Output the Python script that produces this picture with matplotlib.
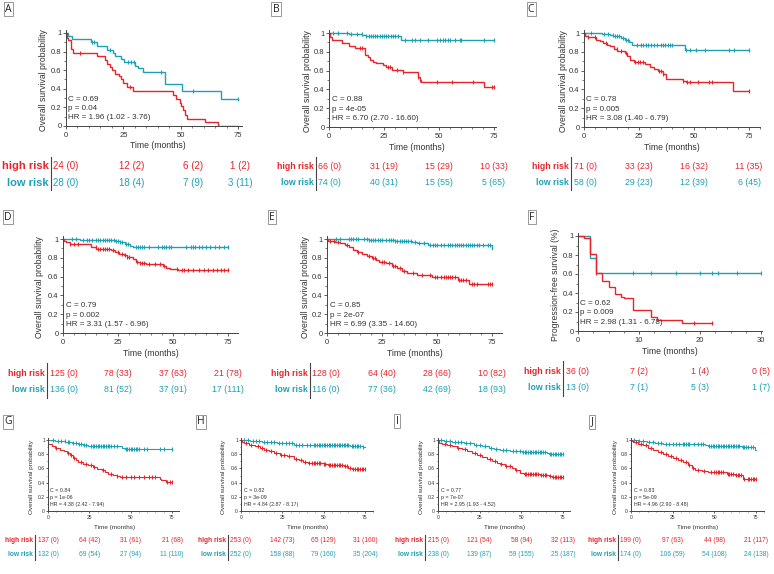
import numpy as np
import matplotlib
matplotlib.use("Agg")
import matplotlib.pyplot as plt
from matplotlib.lines import Line2D
from matplotlib.ticker import MultipleLocator

W, H = 774, 574
RED = "#e8242b"
BLUE = "#1da1b5"
TXT = "#333333"

plt.rcParams.update({
    "font.family": ["Liberation Sans", "DejaVu Sans"],
})

# ── Data: step curves (drop times, survival after drop), end time, censor times ──
A_high_t = [0, 0.5, 1, 2, 3, 13.4, 17, 18, 19, 20, 21.3, 23, 24, 25, 26.7, 29, 46.7, 48, 49.6, 50.3, 51, 51.8, 52.8, 60.5, 66.3]
A_high_s = [1, 0.95, 0.93, 0.83, 0.79, 0.75, 0.71, 0.67, 0.63, 0.60, 0.56, 0.54, 0.50, 0.46, 0.42, 0.375, 0.33, 0.29, 0.25, 0.21, 0.17, 0.12, 0.08, 0.04, 0.0]
A_high_end = 75
A_high_cens = [6, 28]
A_low_t = [0, 1, 2.5, 11, 13.5, 18, 20.5, 21.5, 24, 25.5, 30, 31.5, 33.5, 43, 50.5, 67.5]
A_low_s = [1, 0.965, 0.935, 0.905, 0.86, 0.82, 0.78, 0.75, 0.72, 0.69, 0.65, 0.62, 0.58, 0.45, 0.38, 0.29]
A_low_end = 75
A_low_cens = [11.5, 12.3, 19, 27, 28.5, 29.5, 41.5, 55.5, 75]

B_high_t = [0, 0.5, 1.5, 6, 9, 11.7, 16.3, 17.5, 18.6, 20, 21.5, 24.7, 26, 28.7, 33.7, 40.5, 41.3, 42, 70.5]
B_high_s = [1, 0.96, 0.93, 0.89, 0.865, 0.845, 0.77, 0.74, 0.71, 0.69, 0.68, 0.66, 0.64, 0.61, 0.58, 0.53, 0.50, 0.48, 0.43]
B_high_end = 75
B_high_cens = [14, 15, 26.6, 27.7, 30.7, 33.7, 40.5, 41.5, 49, 55.7, 65.5, 74, 75]
B_low_t = [0, 9, 15, 17, 32.5]
B_low_s = [1, 0.99, 0.98, 0.97, 0.93]
B_low_end = 75
B_low_cens = [2, 4, 8, 10, 12.6, 14.8, 17, 18, 19, 20, 21, 22, 23, 24, 25, 26, 27, 28, 29, 30, 31.4,
              34.5, 37.5, 39.3, 41.3, 45, 48.9, 50.4, 51.9, 52.7, 53.9, 55, 57.2, 59.5, 60.2, 70.5, 75]

C_high_t = [0, 0.5, 2, 5.5, 7.3, 8.8, 10.4, 11.9, 13.5, 15.2, 18.7, 19.7, 20.9, 22.7, 27.7, 30, 32, 33.7, 36, 37.2, 45, 46.5, 67.5]
C_high_s = [1, 0.97, 0.957, 0.93, 0.91, 0.89, 0.875, 0.857, 0.83, 0.81, 0.786, 0.75, 0.714, 0.696, 0.67, 0.64, 0.614, 0.596, 0.564, 0.507, 0.49, 0.475, 0.382]
C_high_end = 75
C_high_cens = [2, 5, 10, 15, 17, 19, 23, 24.5, 25.5, 27, 34, 35, 36, 45, 47, 48, 52, 57, 58, 75]
C_low_t = [0, 8, 11.8, 13.3, 17, 18.6, 20.5, 21.6, 45.8]
C_low_s = [1, 0.99, 0.98, 0.965, 0.946, 0.93, 0.90, 0.875, 0.814]
C_low_end = 75
C_low_cens = [3, 9, 11, 13, 14, 15, 16, 17.5, 19, 20, 24, 26, 27, 28, 29, 30.5, 32, 33, 35, 36, 37, 38,
              39, 40, 46.5, 48, 51, 55, 66, 68, 75]

D_high_t = [0, 0.5, 1.5, 3, 12.9, 15.2, 22, 23.5, 25.5, 27.5, 29, 31.8, 33.3, 34.8, 37.9, 45.5, 47, 48.5, 52.3]
D_high_s = [1, 0.98, 0.964, 0.95, 0.91, 0.893, 0.88, 0.857, 0.843, 0.825, 0.807, 0.786, 0.76, 0.75, 0.736, 0.714, 0.696, 0.682, 0.671]
D_high_end = 75
D_high_cens = [3, 5, 7, 15, 16, 17, 18, 19, 20, 21, 22.5, 25, 27, 28, 29, 30, 33.5, 35, 36, 37, 39, 42,
               44, 46, 52, 54, 55, 57, 59, 62, 64, 66, 68, 70, 72, 73, 75]
D_low_t = [0, 7.5, 21, 23.5, 25.8, 28, 30.3, 32]
D_low_s = [1, 0.993, 0.986, 0.975, 0.964, 0.95, 0.93, 0.91]
D_low_end = 75
D_low_cens = [4, 6, 9, 11, 12, 13, 15, 16, 17, 18, 19, 20, 21, 22, 23, 24, 25, 26, 27, 28.5, 29.5, 33,
              34, 35, 36, 37, 39, 43, 45, 46, 47, 48, 49, 56, 58, 59, 60, 62, 63, 65, 67, 69, 71, 73, 75]

E_high_t = [0, 0.5, 3.8, 6.1, 8, 9.8, 11.7, 13.6, 15.9, 18.2, 20.5, 22.3, 23.8, 26.8, 29.5, 31.8, 34.1, 36.4, 40.9, 47.7, 59.5, 64.4]
E_high_s = [1, 0.982, 0.968, 0.954, 0.936, 0.911, 0.883, 0.858, 0.836, 0.819, 0.80, 0.776, 0.758, 0.74, 0.712, 0.687, 0.662, 0.633, 0.616, 0.598, 0.562, 0.52]
E_high_end = 75
E_high_cens = [1.5, 3, 5, 9, 14, 19, 21, 22, 25, 26, 28, 30, 31, 33, 35, 39, 43, 47, 49, 50, 52, 53,
               54, 55, 56, 57, 58, 60, 61, 62, 63, 66, 67, 68, 73, 74, 75]
E_low_t = [0, 8.3, 19, 31, 38.6, 41, 46, 74.8]
E_low_s = [1, 0.996, 0.99, 0.982, 0.97, 0.954, 0.936, 0.89]
E_low_end = 75
E_low_cens = [4, 6, 10, 11, 12, 13, 14, 17, 18, 19, 20, 21, 22, 23, 24, 25, 27, 28, 29, 30, 31, 32, 33,
              34, 35, 36, 37, 38, 40, 42, 44, 47, 48, 49, 50, 52, 53, 55, 56, 57, 58, 59, 60, 61, 62,
              63, 64, 65, 66, 67, 68, 69, 71, 73, 74]

F_high_t = [0, 1, 2, 3, 4, 5, 6, 7, 7.5, 9, 12, 13, 17]
F_high_s = [1, 0.975, 0.806, 0.61, 0.53, 0.46, 0.385, 0.36, 0.35, 0.22, 0.15, 0.12, 0.085]
F_high_end = 22
F_high_cens = [3, 19, 22]
F_low_t = [0, 2, 3]
F_low_s = [1, 0.77, 0.613]
F_low_end = 30
F_low_cens = [9, 12, 16, 20, 22, 23, 26, 30]

G_high_t = [0, 0.3, 2.4, 4.4, 7, 9.4, 11.4, 13.4, 15.4, 17, 18.4, 21.4, 24.4, 27.5, 29.9, 32.5, 34.5, 36.5, 39.5, 41.5, 43.5, 67.5, 68.5, 71.5]
G_high_s = [1, 0.94, 0.915, 0.89, 0.864, 0.84, 0.817, 0.784, 0.746, 0.714, 0.69, 0.667, 0.643, 0.62, 0.596, 0.573, 0.55, 0.526, 0.512, 0.498, 0.479, 0.455, 0.432, 0.41]
G_high_end = 75
G_high_cens = [5, 12, 14, 16, 20, 23, 26, 28, 33, 38, 42, 45, 47, 50, 52, 55, 58, 61, 63, 65, 72, 74, 75]
G_low_t = [0, 4.4, 10.4, 14.4, 18.4, 21.4, 24.4, 44.5, 46.5]
G_low_s = [1, 0.98, 0.967, 0.953, 0.94, 0.925, 0.915, 0.89, 0.878]
G_low_end = 75
G_low_cens = [3, 6, 8, 10, 12, 13, 15, 17, 19, 20, 22, 23, 26, 27, 28, 29, 30, 31, 32, 33, 34, 35, 36,
              37, 38, 40, 42, 47, 48, 49, 50, 51, 52, 53, 54, 55, 58, 60, 68, 70, 75]

H_high_t = [0, 0.5, 1.6, 4.6, 8.7, 11.7, 13.7, 16.7, 19.7, 23.7, 27.8, 31.8, 34.8, 37.8, 40.8, 49.9, 52.9, 62, 65, 67]
H_high_s = [1, 0.977, 0.958, 0.934, 0.91, 0.887, 0.864, 0.84, 0.817, 0.793, 0.77, 0.737, 0.714, 0.69, 0.676, 0.657, 0.643, 0.63, 0.606, 0.596]
H_high_end = 75
H_high_cens = [3, 6, 10, 13, 15, 18, 21, 24, 26, 29, 33, 36, 39, 41, 43, 44, 45, 46, 47, 48, 50, 51, 53,
               54, 55, 56, 57, 58, 59, 60, 61, 63, 64, 66, 68, 69, 70, 71, 72, 73, 74, 75]
H_low_t = [0, 5.6, 12.7, 21.7, 31.8, 38.8, 66, 73.9]
H_low_s = [1, 0.986, 0.97, 0.953, 0.934, 0.925, 0.915, 0.90]
H_low_end = 75
H_low_cens = [2, 4, 7, 9, 11, 14, 16, 18, 20, 23, 25, 27, 29, 31, 33, 35, 37, 40, 42, 44, 45, 46, 47,
              48, 49, 50, 51, 52, 53, 54, 55, 56, 57, 58, 59, 60, 61, 62, 63, 64, 65, 67, 68, 69, 70, 71, 72, 74]

I_high_t = [0, 0.4, 2.4, 5.4, 8.4, 11.4, 14.4, 17.4, 20.4, 23.4, 26.4, 29.4, 32.4, 35.4, 37.4, 40.4, 44.4, 46.4, 49.4, 51.4, 61.4, 66.4, 68.4]
I_high_s = [1, 0.958, 0.94, 0.925, 0.91, 0.892, 0.873, 0.845, 0.817, 0.793, 0.76, 0.737, 0.704, 0.676, 0.657, 0.638, 0.61, 0.573, 0.54, 0.526, 0.512, 0.488, 0.479]
I_high_end = 75
I_high_cens = [4, 7, 12, 16, 22, 25, 31, 34, 38, 41, 43, 47, 52, 53, 54, 55, 56, 57, 58, 59, 60, 62, 63,
               64, 65, 67, 69, 70, 71, 72, 73, 74, 75]
I_low_t = [0, 3.4, 8.4, 15.4, 21.4, 26.4, 30.4, 33.4, 37.4, 43.4, 50.4, 65.4, 66.4]
I_low_s = [1, 0.986, 0.967, 0.953, 0.934, 0.915, 0.892, 0.873, 0.854, 0.84, 0.83, 0.817, 0.808]
I_low_end = 75
I_low_cens = [2, 5, 7, 10, 12, 14, 17, 19, 23, 25, 28, 32, 35, 39, 41, 45, 47, 49, 51, 52, 53, 54, 55,
              56, 57, 58, 59, 60, 61, 62, 63, 64, 67, 68, 69, 70, 71, 72, 73, 74, 75]

J_high_t = [0, 0.4, 1.4, 4.4, 7.4, 10.4, 13.4, 16.4, 19.4, 22.4, 25.4, 28.4, 31.4, 34.4, 36.4, 38.4, 42.4, 46.4, 57.4, 62.4, 67.4]
J_high_s = [1, 0.986, 0.967, 0.948, 0.925, 0.892, 0.864, 0.83, 0.80, 0.77, 0.75, 0.723, 0.69, 0.643, 0.61, 0.582, 0.563, 0.545, 0.526, 0.502, 0.455]
J_high_end = 75
J_high_cens = [3, 6, 9, 12, 18, 21, 24, 27, 30, 33, 35, 37, 40, 44, 48, 50, 51, 52, 53, 54, 55, 58, 59,
               60, 61, 63, 64, 65, 66, 68, 70, 71, 72, 73, 74, 75]
J_low_t = [0, 4.4, 9.4, 14.4, 19.4, 36.4, 44.4, 46.4, 66.4, 74.6]
J_low_s = [1, 0.986, 0.967, 0.953, 0.948, 0.94, 0.925, 0.91, 0.90, 0.864]
J_low_end = 75
J_low_cens = [2, 5, 7, 11, 13, 16, 18, 21, 23, 25, 27, 29, 31, 32, 33, 34, 35, 38, 40, 42, 43, 47, 48,
              49, 50, 51, 52, 53, 54, 55, 56, 57, 58, 59, 60, 61, 62, 63, 64, 65, 67, 68, 69, 70, 72, 73]

# ── Stats text ──
STATS = {
    "A": ["C = 0.69", "p = 0.04", "HR = 1.96 (1.02 - 3.76)"],
    "B": ["C = 0.88", "p = 4e-05", "HR = 6.70 (2.70 - 16.60)"],
    "C": ["C = 0.78", "p = 0.005", "HR = 3.08 (1.40 - 6.79)"],
    "D": ["C = 0.79", "p = 0.002", "HR = 3.31 (1.57 - 6.96)"],
    "E": ["C = 0.85", "p = 2e-07", "HR = 6.99 (3.35 - 14.60)"],
    "F": ["C = 0.62", "p = 0.009", "HR = 2.98 (1.31 - 6.78)"],
    "G": ["C = 0.84", "p = 1e-06", "HR = 4.38 (2.42 - 7.94)"],
    "H": ["C = 0.82", "p = 3e-09", "HR = 4.84 (2.87 - 8.17)"],
    "I": ["C = 0.77", "p = 7e-07", "HR = 2.95 (1.93 - 4.52)"],
    "J": ["C = 0.83", "p = 5e-09", "HR = 4.96 (2.90 - 8.48)"],
}

# ── Numbers at risk (censored) ──
A_high_risk = ["24 (0)", "12 (2)", "6 (2)", "1 (2)"]
A_low_risk = ["28 (0)", "18 (4)", "7 (9)", "3 (11)"]
B_high_risk = ["66 (0)", "31 (19)", "15 (29)", "10 (33)"]
B_low_risk = ["74 (0)", "40 (31)", "15 (55)", "5 (65)"]
C_high_risk = ["71 (0)", "33 (23)", "16 (32)", "11 (35)"]
C_low_risk = ["58 (0)", "29 (23)", "12 (39)", "6 (45)"]
D_high_risk = ["125 (0)", "78 (33)", "37 (63)", "21 (78)"]
D_low_risk = ["136 (0)", "81 (52)", "37 (91)", "17 (111)"]
E_high_risk = ["128 (0)", "64 (40)", "28 (66)", "10 (82)"]
E_low_risk = ["116 (0)", "77 (36)", "42 (69)", "18 (93)"]
F_high_risk = ["36 (0)", "7 (2)", "1 (4)", "0 (5)"]
F_low_risk = ["13 (0)", "7 (1)", "5 (3)", "1 (7)"]
G_high_risk = ["137 (0)", "64 (42)", "31 (61)", "21 (68)"]
G_low_risk = ["132 (0)", "69 (54)", "27 (94)", "11 (110)"]
H_high_risk = ["253 (0)", "142 (73)", "65 (129)", "31 (160)"]
H_low_risk = ["252 (0)", "158 (88)", "79 (160)", "35 (204)"]
I_high_risk = ["215 (0)", "121 (54)", "58 (94)", "32 (113)"]
I_low_risk = ["238 (0)", "139 (87)", "59 (155)", "25 (187)"]
J_high_risk = ["199 (0)", "97 (63)", "44 (98)", "21 (117)"]
J_low_risk = ["174 (0)", "106 (59)", "54 (108)", "24 (138)"]

# ── Layout (pixels of the 774x574 canvas) ──
BIG = dict(tick=5.5, lab=6.2, stat=5.8, tab=6.3, tabnum=6.3, lw=1.0, ms=3.5, tl=2.0)
SMALL = dict(tick=3.6, lab=4.6, stat=3.8, tab=4.8, tabnum=4.8, lw=0.8, ms=2.4, tl=1.4)

LAYOUT = {
    "A": dict(x0=66, xt=238, tend=75, xmax=76.7, y1=33, y0=126, ylab=43, xlab=146, rows=(166, 183),
              sep=51, sepy=(157, 190), box=(8, 9), sz=BIG, cols=[132, 193, 240], tab=8.0, tabnum=7.0,
              ylabel="Overall survival probability"),
    "B": dict(x0=329, xt=494, tend=75, xmax=76, y1=33, y0=127, ylab=308, xlab=147, rows=(166, 183),
              sep=316, sepy=(157, 190), box=(276, 9), sz=BIG, ylabel="Overall survival probability"),
    "C": dict(x0=584, xt=749, tend=75, xmax=80, y1=33, y0=127, ylab=563, xlab=147, rows=(166, 183),
              sep=571, sepy=(157, 190), box=(531, 9), sz=BIG, ylabel="Overall survival probability"),
    "D": dict(x0=63, xt=228, tend=75, xmax=79.5, y1=239, y0=333, ylab=40, xlab=354, rows=(373, 389),
              sep=47, sepy=(363, 398), box=(8, 217), sz=BIG, ylabel="Overall survival probability"),
    "E": dict(x0=327, xt=492, tend=75, xmax=79.5, y1=239, y0=333, ylab=305, xlab=354, rows=(373, 389),
              sep=310, sepy=(363, 398), box=(272, 217), sz=BIG, ylabel="Overall survival probability"),
    "F": dict(x0=578, xt=761, tend=30, xmax=30.2, y1=236, y0=331, ylab=555, xlab=352, rows=(371, 387),
              sep=563, sepy=(361, 396), box=(532, 217), sz=BIG, ylabel="Progression-free survival (%)"),
    "G": dict(x0=48, xt=172, tend=75, xmax=79.5, y1=440, y0=511, ylab=32, xlab=527, rows=(541, 554),
              sep=35, sepy=(535, 560), box=(8, 422), sz=SMALL, ylabel="Overall survival probability"),
    "H": dict(x0=241, xt=365, tend=75, xmax=80, y1=440, y0=511, ylab=223, xlab=527, rows=(541, 554),
              sep=228, sepy=(535, 560), box=(201, 422), sz=SMALL, ylabel="Overall survival probability"),
    "I": dict(x0=438, xt=563, tend=75, xmax=79, y1=440, y0=511, ylab=421, xlab=527, rows=(541, 554),
              sep=425, sepy=(535, 560), box=(397, 421), sz=SMALL, ylabel="Overall survival probability"),
    "J": dict(x0=631, xt=756, tend=75, xmax=80, y1=440, y0=511, ylab=615, xlab=527, rows=(541, 554),
              sep=618, sepy=(535, 560), box=(592, 422), sz=SMALL, ylabel="Overall survival probability"),
}

fig = plt.figure(figsize=(W / 100, H / 100), dpi=100)
fig.patch.set_facecolor("white")


def ftext(x, y, s, **kw):
    return fig.text(x / W, 1 - y / H, s, **kw)


def km(ax, t, s, end, cens, color, sz):
    xs = list(t) + [end]
    ys = list(s) + [s[-1]]
    ax.step(xs, ys, where="post", color=color, lw=sz["lw"], solid_joinstyle="miter")
    idx = np.searchsorted(np.array(t), np.array(cens), side="right") - 1
    cy = np.array(s)[idx]
    ax.plot(cens, cy, ls="none", marker="|", color=color, ms=sz["ms"], mew=0.8)


for name, L in LAYOUT.items():
    g = globals()
    sz = L["sz"]
    ppu = (L["xt"] - L["x0"]) / L["tend"]
    yspan = L["y0"] - L["y1"]
    ytop = 1.03
    rect = [L["x0"] / W, 1 - L["y0"] / H, L["xmax"] * ppu / W, ytop * yspan / H]
    ax = fig.add_axes(rect)
    ax.set_xlim(0, L["xmax"])
    ax.set_ylim(0, ytop)
    for sp in ["top", "right"]:
        ax.spines[sp].set_visible(False)
    for sp in ["left", "bottom"]:
        ax.spines[sp].set_color("#444444")
        ax.spines[sp].set_linewidth(0.7)
    ax.patch.set_alpha(0)

    if L["tend"] == 30:
        ax.set_xticks([0, 10, 20, 30])
        ax.xaxis.set_minor_locator(MultipleLocator(2.5))
    else:
        ax.set_xticks([0, 25, 50, 75])
        ax.xaxis.set_minor_locator(MultipleLocator(5))
    ax.set_yticks([0, 0.2, 0.4, 0.6, 0.8, 1.0])
    ax.set_yticklabels(["0", "0.2", "0.4", "0.6", "0.8", "1"])
    ax.yaxis.set_minor_locator(MultipleLocator(0.1))
    ax.tick_params(which="major", length=sz["tl"], width=0.6, color="#444444",
                   labelsize=sz["tick"], labelcolor=TXT)
    ax.tick_params(which="minor", length=sz["tl"] * 0.6, width=0.5, color="#444444")
    ax.tick_params(axis="x", pad=2.5 if sz is BIG else 1.6)
    ax.tick_params(axis="y", pad=1.2 if sz is BIG else 0.8)

    km(ax, g[f"{name}_low_t"], g[f"{name}_low_s"], g[f"{name}_low_end"], g[f"{name}_low_cens"], BLUE, sz)
    km(ax, g[f"{name}_high_t"], g[f"{name}_high_s"], g[f"{name}_high_end"], g[f"{name}_high_cens"], RED, sz)

    # stats text
    for v, line in zip([0.29, 0.19, 0.09], STATS[name]):
        ftext(L["x0"] + 2.5, L["y0"] - v * yspan, line, ha="left", va="center",
              fontsize=sz["stat"], color=TXT)

    # axis labels
    ftext(L["ylab"], (L["y0"] + L["y1"]) / 2 + 1, L["ylabel"], rotation=90, ha="center",
          va="center", fontsize=sz["lab"], color=TXT)
    ftext(L["x0"] + (L["tend"] * 40 / 75 if L["tend"] == 75 else 15) * ppu, L["xlab"],
          "Time (months)", ha="center", va="center", fontsize=sz["lab"], color=TXT)

    # panel letter
    bx, by = L["box"]
    ftext(bx, by, name, ha="center", va="center", fontsize=7.5, family="Open Sans", color="#222222",
          bbox=dict(boxstyle="square,pad=0.12", fc="white", ec="#888888", lw=0.6))

    # risk table
    tab_fs = L.get("tab", sz["tab"])
    num_fs = L.get("tabnum", sz["tabnum"])
    cols = L.get("cols")
    if cols is None:
        ticks = [25, 50, 75] if L["tend"] == 75 else [10, 20, 30]
        cols = [L["x0"] + tk * ppu for tk in ticks]
    sep = L["sep"]
    fig.add_artist(Line2D([sep / W, sep / W], [1 - L["sepy"][0] / H, 1 - L["sepy"][1] / H],
                          color="#444444", lw=0.8))
    for row_y, lab, key, col in [(L["rows"][0], "high risk", "high", RED),
                                 (L["rows"][1], "low risk", "low", BLUE)]:
        ftext(sep - 2, row_y, lab, ha="right", va="center", fontsize=tab_fs,
              fontweight="bold", color=col)
        vals = g[f"{name}_{key}_risk"]
        ftext(sep + 2.5, row_y, vals[0], ha="left", va="center", fontsize=num_fs, color=col)
        for cx, v in zip(cols, vals[1:]):
            ftext(cx, row_y, v, ha="center", va="center", fontsize=num_fs, color=col)

fig.savefig("out.png", dpi=100, facecolor="white")
